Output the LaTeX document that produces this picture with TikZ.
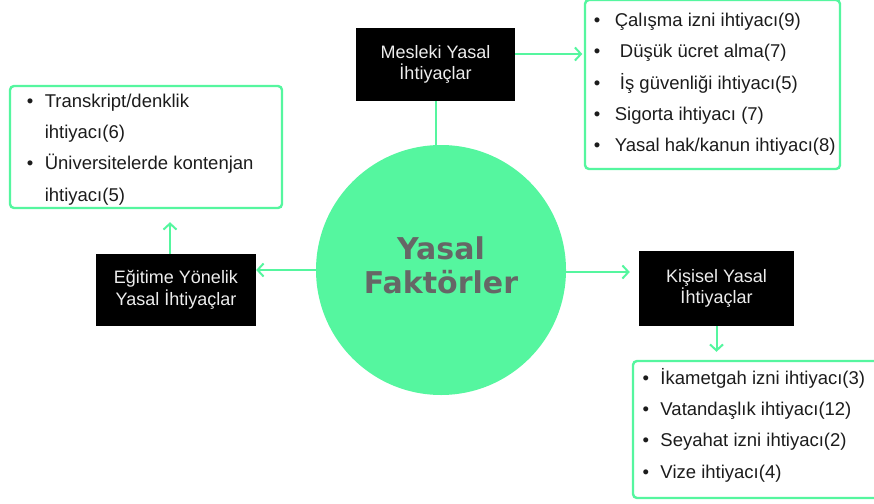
\documentclass[tikz,border=0pt]{standalone}
\usepackage{fontspec}
\setmainfont{Liberation Sans}
\newfontfamily\titlefont{DejaVu Sans}
\usetikzlibrary{arrows.meta,positioning}
\definecolor{mint}{HTML}{55F69F}
\definecolor{titlegray}{HTML}{666666}
\definecolor{ink}{HTML}{1C1C1C}
\newcommand{\bul}[1][21pt]{\makebox[#1][l]{•}}
\tikzset{
  hub/.style={circle, fill=mint, minimum size=250pt, inner sep=0pt, text=titlegray, align=center, font=\titlefont\bfseries\fontsize{30}{34}\selectfont},
  blackbox/.style={fill=black, text=white!93!black, align=center, inner sep=0pt, font=\fontsize{18}{21.5}\selectfont},
  listbox/.style={draw=mint, line width=2.4pt, rounded corners=4pt, fill=white, inner sep=0pt},
  listtext/.style={align=left, inner sep=0pt, text=ink, font=\fontsize{18.5}{31.3}\selectfont},
  conn/.style={draw=mint, line width=2pt},
  arr/.style={conn, -{Straight Barb[length=6pt,width=13pt]}},
}

\begin{document}
\begin{tikzpicture}[x=1pt,y=-1pt]
\useasboundingbox (0,0) rectangle (874,503);
% centre
\node[hub] (faktor) at (441,270) {Yasal\\Faktörler\rule[-10pt]{0pt}{10pt}};
% black boxes
\node[blackbox, minimum width=159pt, minimum height=73pt] (mesleki) at (435.5,64.5) {Mesleki Yasal\\İhtiyaçlar};
\node[blackbox, minimum width=160pt, minimum height=72pt] (egitim) at (176,290) {Eğitime Yönelik\\Yasal İhtiyaçlar};
\node[blackbox, minimum width=155pt, minimum height=75pt] (kisisel) at (716.5,288.5) {Kişisel Yasal\\İhtiyaçlar};
% lists
\node[listbox, minimum width=255pt, minimum height=169pt] (meslekiList) at (712.5,84.5) {};
\node[listtext, right=9.8pt of meslekiList.west] (meslekiItems) {\bul Çalışma izni ihtiyacı(9)\\\bul\ Düşük ücret alma(7)\\\bul\ İş güvenliği ihtiyacı(5)\\\bul Sigorta ihtiyacı (7)\\\bul Yasal hak/kanun ihtiyacı(8)};
\node[listbox, minimum width=272pt, minimum height=122pt] (egitimList) at (146,147) {};
\node[listtext, right=17.8pt of egitimList.west, yshift=-2.5pt] (egitimItems) {\bul[18pt]Transkript/denklik\\\hspace*{18pt}ihtiyacı(6)\\\bul[18pt]Üniversitelerde kontenjan\\\hspace*{18pt}ihtiyacı(5)};
\node[listbox, minimum width=260pt, minimum height=137pt] (kisiselList) at (763,429.5) {};
\node[listtext, right=10.5pt of kisiselList.west, yshift=4.5pt] (kisiselItems) {\bul[18pt]İkametgah izni ihtiyacı(3)\\\bul[18pt]Vatandaşlık ihtiyacı(12)\\\bul[18pt]Seyahat izni ihtiyacı(2)\\\bul[18pt]Vize ihtiyacı(4)};
% connectors
\draw[conn] (mesleki.south) -- (mesleki.south |- faktor.north);
\draw[arr, shorten >=1.5pt] ([yshift=10.5pt]mesleki.east) -- ([yshift=10.5pt]mesleki.east -| meslekiList.west);
\draw[arr] (faktor.west) -- (faktor.west -| egitim.east);
\draw[arr, shorten >=13pt] ([xshift=-6pt]egitim.north) -- ([xshift=-6pt]egitim.north |- egitimList.south);
\draw[arr, shorten >=9pt] ([yshift=-2pt]faktor.east) -- ([yshift=-2pt]faktor.east -| kisisel.west);
\draw[arr, shorten >=8pt] (kisisel.south) -- (kisisel.south |- kisiselList.north);
\end{tikzpicture}
\end{document}
